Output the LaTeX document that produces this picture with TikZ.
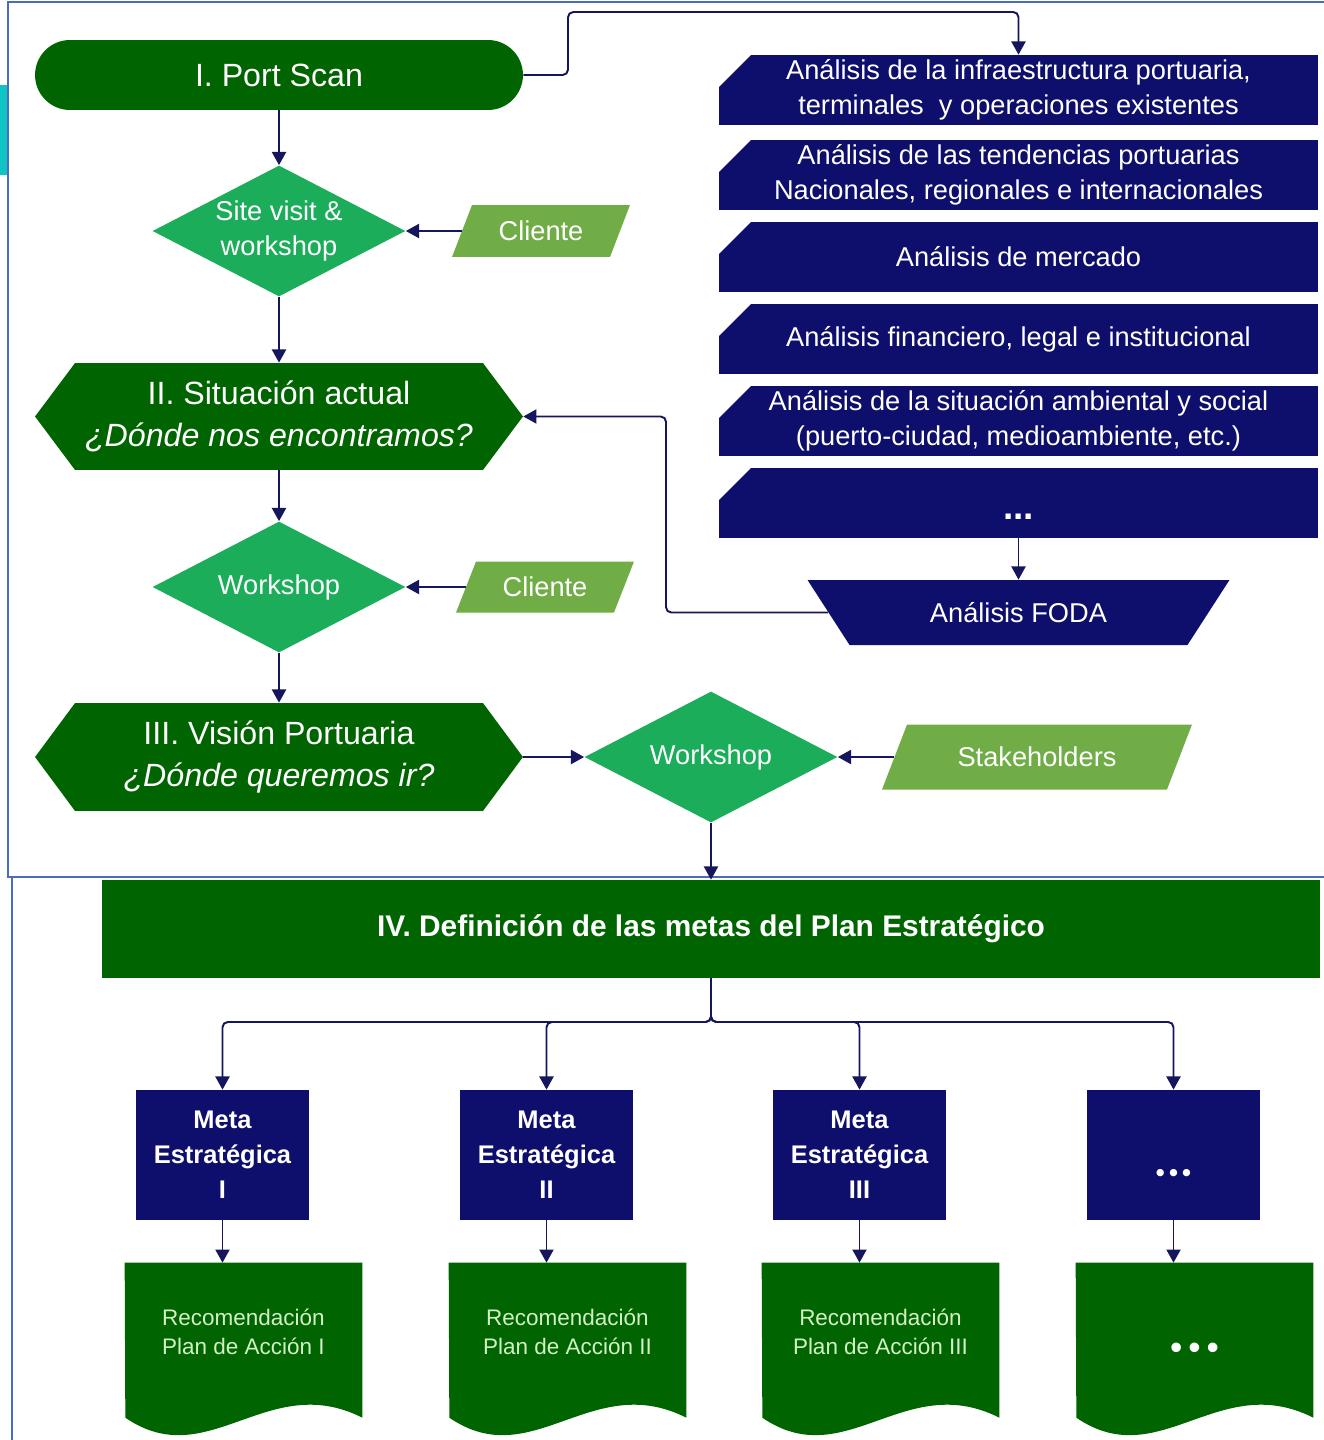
\documentclass[tikz,border=0pt]{standalone}
\usepackage{fontspec}
\setmainfont{Liberation Sans}
\usepackage{tikz}
\usetikzlibrary{shapes.geometric,arrows.meta,backgrounds}
\definecolor{dkgreen}{HTML}{006400}
\definecolor{midgreen}{HTML}{1CAD5B}
\definecolor{ltgreen}{HTML}{70AD47}
\definecolor{navy}{HTML}{0E0E6C}
\definecolor{wire}{HTML}{16165E}
\definecolor{frame}{HTML}{4A6CC0}
\definecolor{doctext}{HTML}{D2F0C4}
\definecolor{strip}{HTML}{10C4C4}
\newcommand{\pbb}{path picture bounding box}
\tikzset{
  base/.style={text=white, align=center, inner sep=0pt},
  phase/.style={base, minimum width=9.76cm, font=\fontsize{18.3}{24}\selectfont},
  scanbox/.style={phase, fill=dkgreen, minimum height=1.4cm, rounded corners=0.7cm},
  hexbox/.style={phase, minimum height=2.14cm,
    path picture={\fill[dkgreen] (\pbb.west) -- ([xshift=0.8cm]\pbb.north west)
      -- ([xshift=-0.8cm]\pbb.north east) -- (\pbb.east)
      -- ([xshift=-0.8cm]\pbb.south east) -- ([xshift=0.8cm]\pbb.south west) -- cycle;}},
  diam/.style={base, diamond, fill=midgreen, aspect=2, minimum width=5.06cm,
    minimum height=2.62cm, font=\fontsize{15.5}{19.5}\selectfont},
  party/.style={base, font=\fontsize{15.5}{19}\selectfont,
    path picture={\fill[ltgreen] (\pbb.south west) -- ([xshift=#1]\pbb.north west)
      -- (\pbb.north east) -- ([xshift=-#1]\pbb.south east) -- cycle;}},
  party/.default=0.4cm,
  card/.style={base, minimum width=11.98cm, minimum height=1.4cm,
    font=\fontsize{15.5}{20}\selectfont,
    path picture={\fill[navy] (\pbb.south west) -- ([yshift=-0.64cm]\pbb.north west)
      -- ([xshift=0.64cm]\pbb.north west) -- (\pbb.north east) -- (\pbb.south east) -- cycle;}},
  swot/.style={base, minimum width=8.44cm, minimum height=1.3cm,
    font=\fontsize{15.5}{20}\selectfont,
    path picture={\fill[navy] (\pbb.north west) -- (\pbb.north east)
      -- ([xshift=-0.84cm]\pbb.south east) -- ([xshift=0.84cm]\pbb.south west) -- cycle;}},
  goal/.style={base, fill=dkgreen, minimum width=24.36cm, minimum height=1.96cm,
    font=\bfseries\fontsize{17}{22}\selectfont},
  meta/.style={base, fill=navy, minimum width=3.46cm, minimum height=2.6cm,
    font=\bfseries\fontsize{14.5}{20}\selectfont},
  doc/.style={base, text=doctext, minimum width=4.74cm, minimum height=2.74cm,
    font=\fontsize{12.8}{16.5}\selectfont},
  arr/.style={draw=wire, line width=1.1pt, -{Triangle[length=7.5pt,width=8pt]}},
}

\begin{document}
\begin{tikzpicture}[x=0.02cm, y=-0.02cm]
  \useasboundingbox (0,0) rectangle (1324,1440);

  % frames of the slide
  \fill[strip] (0,85) rectangle (8,175);
  \draw[frame, line width=1.2pt] (8,2) rectangle (1330,877);
  \draw[frame, line width=1.2pt] (12,878) -- (12,1440);

  % left column
  \node[scanbox] (ps) at (279,75) {I. Port Scan};
  \node[diam] (visit) at (279,231) {Site visit \&\\workshop};
  \node[party, minimum width=3.56cm, minimum height=1.04cm] (cli1) at (541,231) {Cliente};
  \node[hexbox] (sit) at (279,416.5) {II. Situación actual\\\textit{¿Dónde nos encontramos?}};
  \node[diam] (ws2) at (279,587) {Workshop};
  \node[party, minimum width=3.56cm, minimum height=1.02cm] (cli2) at (545,587) {Cliente};
  \node[hexbox, minimum height=2.16cm] (vis) at (279,757) {III. Visión Portuaria\\\textit{¿Dónde queremos ir?}};
  \node[diam] (ws3) at (711,757) {Workshop};
  \node[party=0.5cm, minimum width=6.2cm, minimum height=1.3cm] (stk) at (1037,757) {Stakeholders};

  % right column
  \node[card] (c1) at (1018.5,90) {Análisis de la infraestructura portuaria,\\terminales\ \ y operaciones existentes};
  \node[card] (c2) at (1018.5,175) {Análisis de las tendencias portuarias\\Nacionales, regionales e internacionales};
  \node[card] (c3) at (1018.5,257) {Análisis de mercado};
  \node[card] (c4) at (1018.5,339) {Análisis financiero, legal e institucional};
  \node[card] (c5) at (1018.5,421) {Análisis de la situación ambiental y social\\(puerto-ciudad, medioambiente, etc.)};
  \node[card, font=\bfseries\fontsize{21}{21}\selectfont, text height=0.64cm, text depth=0pt] (c6) at (1018.5,503) {...};
  \node[swot] (foda) at (1018.5,612.5) {Análisis FODA};

  % goals
  \node[goal] (iv) at (711,929) {IV. Definición de las metas del Plan Estratégico};
  \node[meta] (m1) at (222.5,1155) {Meta\\Estratégica\\I};
  \node[meta] (m2) at (546.5,1155) {Meta\\Estratégica\\II};
  \node[meta] (m3) at (859.5,1155) {Meta\\Estratégica\\III};
  \node[meta, text height=1.04cm, text depth=0pt] (m4) at (1173.5,1155) {\textbullet\,\textbullet\,\textbullet};
  \node[doc] (d1) at (243.5,1331.5) {Recomendación\\Plan de Acción I};
  \node[doc] (d2) at (567.5,1331.5) {Recomendación\\Plan de Acción II};
  \node[doc] (d3) at (880.5,1331.5) {Recomendación\\Plan de Acción III};
  \node[doc, text=white, font=\fontsize{20}{20}\selectfont, text height=1.1cm, text depth=0pt] (d4) at (1194.5,1331.5) {\textbullet\,\textbullet\,\textbullet};

  \begin{scope}[on background layer]
    \foreach \d in {d1,d2,d3,d4}
      \fill[dkgreen] (\d.north west) -- (\d.north east) -- ++(0,155)
        .. controls +(-95,-48) and +(83,57) .. ++(-237,0) -- cycle;
  \end{scope}

  % connectors
  \coordinate (over) at (568,12);
  \coordinate (jog) at (666,416.5);
  \coordinate (split) at (711,1022);
  \draw[arr] (ps) -- (visit);
  \draw[arr] ([xshift=0.2cm]cli1.west) -- (visit);
  \draw[arr] (visit) -- (sit);
  \draw[arr] (sit) -- (ws2);
  \draw[arr] ([xshift=0.2cm]cli2.west) -- (ws2);
  \draw[arr] (ws2) -- (vis);
  \draw[arr] (vis) -- (ws3);
  \draw[arr] ([xshift=0.25cm]stk.west) -- (ws3);
  \draw[arr] (ws3) -- (iv);
  \draw[arr, rounded corners=3pt] (ps.east) -| (over) -| (c1.north);
  \draw[arr] (c6) -- (foda);
  \draw[arr, rounded corners=3pt] ([xshift=0.42cm]foda.west) -| (jog) -- (sit.east);
  \foreach \m/\d in {m1/d1,m2/d2,m3/d3,m4/d4}{
    \draw[arr, rounded corners=3pt] (iv.south) -- (split) -| (\m.north);
    \draw[arr] (\m.south) -- (\m.south |- \d.north);
  }
\end{tikzpicture}
\end{document}
